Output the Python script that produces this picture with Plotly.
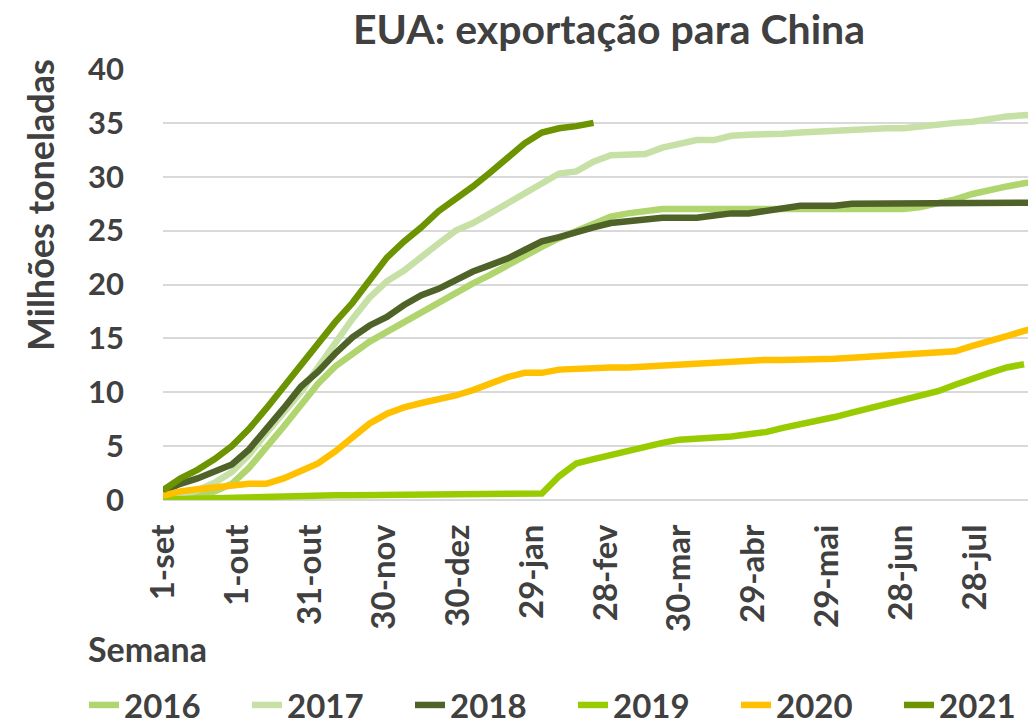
import plotly.graph_objects as go

weeks = list(range(52))
tick_days = [0, 30, 60, 90, 120, 150, 180, 210, 240, 270, 300, 330]
tick_labels = ["1-set", "1-out", "31-out", "30-nov", "30-dez", "29-jan", "28-fev",
               "30-mar", "29-abr", "29-mai", "28-jun", "28-jul"]

s2016 = [0.2, 0.3, 0.5, 0.8, 1.5, 3.0, 4.8, 6.8, 8.8, 10.8, 12.4, 13.6, 14.7, 15.6, 16.5, 17.5,
         18.4, 19.3, 20.1, 20.9, 21.8, 22.7, 23.5, 24.3, 25.0, 25.7, 26.3, 26.6, 26.8, 27.0, 27.0,
         27.0, 27.0, 27.0, 26.9, 26.9, 26.9, 26.9, 26.9, 26.9, 26.9, 26.9, 26.9, 27.0, 27.2, 27.5,
         27.9, 28.4, 28.8, 29.1, 29.4, 29.6]
s2017 = [0.3, 0.5, 0.9, 1.6, 2.6, 4.2, 6.2, 8.2, 10.0, 12.3, 14.6, 16.8, 18.8, 20.3, 21.3, 22.6,
         23.8, 25.0, 25.7, 26.6, 27.5, 28.5, 29.4, 30.3, 30.5, 31.4, 32.0, 32.1, 32.1, 32.7, 33.1,
         33.4, 33.4, 33.8, 33.9, 33.9, 34.0, 34.1, 34.2, 34.3, 34.4, 34.5, 34.5, 34.5, 34.7, 34.9,
         35.0, 35.1, 35.4, 35.6, 35.7, 35.8]
s2018 = [0.8, 1.5, 2.0, 2.6, 3.3, 4.7, 6.5, 8.5, 10.5, 11.9, 13.6, 15.1, 16.2, 17.0, 18.1, 19.0,
         19.6, 20.4, 21.2, 21.8, 22.4, 23.2, 24.0, 24.4, 24.9, 25.3, 25.7, 25.9, 26.0, 26.2, 26.2,
         26.2, 26.4, 26.6, 26.6, 26.8, 27.1, 27.3, 27.3, 27.3, 27.5, 27.5, 27.5, 27.5, 27.5, 27.5,
         27.6, 27.6, 27.6, 27.6, 27.6, 27.6]
s2019 = [0.05, 0.1, 0.15, 0.2, 0.25, 0.3, 0.3, 0.45, 0.45, 0.45, 0.45, 0.45, 0.45, 0.45, 0.45,
         0.45, 0.5, 0.6, 0.6, 0.6, 0.6, 0.6, 0.6, 2.2, 3.4, 3.8, 4.2, 4.6, 5.0, 5.3, 5.6, 5.7, 5.7,
         5.9, 6.1, 6.3, 6.7, 7.0, 7.4, 7.7, 8.1, 8.5, 8.9, 9.2, 9.6, 10.1, 10.7, 11.3, 11.8, 12.3,
         12.6]
s2020 = [0.4, 0.8, 1.0, 1.2, 1.4, 1.5, 1.5, 2.0, 2.7, 3.4, 4.5, 5.9, 7.1, 8.0, 8.6, 9.0, 9.3, 9.7,
         10.2, 10.8, 11.4, 11.8, 11.8, 12.1, 12.2, 12.3, 12.3, 12.3, 12.4, 12.5, 12.5, 12.6, 12.7,
         12.8, 13.0, 13.0, 13.0, 13.0, 13.0, 13.1, 13.2, 13.3, 13.3, 13.4, 13.5, 13.7, 13.8, 14.3,
         14.7, 15.2, 15.7, 16.1]
s2021 = [0.9, 2.0, 2.8, 3.8, 5.0, 6.6, 8.5, 10.5, 12.6, 14.6, 16.5, 18.3, 20.5, 22.5, 24.0, 25.3,
         26.8, 27.9, 29.1, 30.4, 31.8, 33.1, 34.1, 34.5, 34.7, 35.0]

series_names = ["2016", "2017", "2018", "2019", "2020", "2021"]
series_values = [s2016, s2017, s2018, s2019, s2020, s2021]
colors = ["#b0d46e", "#c6e0a6", "#4f6228", "#99cc00", "#ffc000", "#6b9400"]

FONT = "Lato, 'Open Sans', sans-serif"
TXT = "#404040"

L, T, PW, PH = 163, 69, 865, 431

fig = go.Figure()
for name, vals, col in zip(series_names, series_values, colors):
    days = [7 * w for w in weeks[:len(vals)]]
    fig.add_trace(go.Scatter(x=days, y=vals, mode="lines", name="<b>%s</b>" % name,
                             line=dict(color=col, width=6.5)))

fig.update_layout(
    width=1028, height=724,
    paper_bgcolor="white", plot_bgcolor="white",
    margin=dict(l=L, r=0, t=T, b=724 - T - PH, autoexpand=False),
    font=dict(family=FONT, color=TXT),
    title=dict(text="<b>EUA: exportação para China</b>", font=dict(size=41, color=TXT, family=FONT),
               x=609 / 1028, xanchor="center", xref="container",
               y=1 - 30 / 724, yanchor="middle", yref="container"),
    xaxis=dict(range=[0, 351.6], tickmode="array", tickvals=tick_days,
               ticktext=["<b>%s</b>" % t for t in tick_labels], tickangle=-90,
               tickfont=dict(size=33, color=TXT, family=FONT),
               showgrid=False, zeroline=False, showline=False, ticks="",
               ticklabelstandoff=17),
    yaxis=dict(range=[0, 40], tickmode="array", tickvals=[0, 5, 10, 15, 20, 25, 30, 35, 40],
               ticktext=["<b>%d</b>" % v for v in [0, 5, 10, 15, 20, 25, 30, 35, 40]],
               tickfont=dict(size=31, color=TXT, family=FONT),
               showgrid=True, gridcolor="#d9d9d9", gridwidth=2,
               zeroline=True, zerolinecolor="#d9d9d9", zerolinewidth=2,
               showline=False, ticks="", ticklabelstandoff=38),
    legend=dict(orientation="h", xref="paper", yref="paper",
                x=(84 - L) / PW, xanchor="left", y=(T + PH - 705) / PH, yanchor="middle",
                font=dict(size=33, color=TXT, family=FONT),
                entrywidth=118, entrywidthmode="pixels", bgcolor="rgba(0,0,0,0)"),
    showlegend=True,
)

fig.add_annotation(text="<b>Milhões toneladas</b>", textangle=-90, showarrow=False,
                   xref="paper", yref="paper", x=(40 - L) / PW, y=(T + PH - 205) / PH,
                   xanchor="center", yanchor="middle",
                   font=dict(size=36, color=TXT, family=FONT))
fig.add_annotation(text="<b>Semana</b>", showarrow=False,
                   xref="paper", yref="paper", x=(86 - L) / PW, y=(T + PH - 648) / PH,
                   xanchor="left", yanchor="middle",
                   font=dict(size=34, color=TXT, family=FONT))

fig.write_html("out.html", config={"displayModeBar": False},
               post_script="document.body.style.margin='0';")
